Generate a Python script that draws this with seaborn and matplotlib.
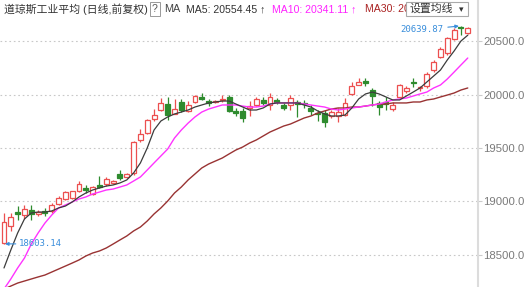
import numpy as np
import pandas as pd
import matplotlib
matplotlib.use("Agg")
import matplotlib.pyplot as plt
import matplotlib.patches as mpatches
import seaborn as sns

# ---------------- data ----------------
opens = [18611, 18770, 18901, 18873, 18920, 18883, 18911, 18911, 18976, 19023,
         19030, 19098, 19126, 19070, 19154, 19163, 19173, 19257, 19229, 19266,
         19575, 19640, 19771, 19855, 19911, 19818, 19930, 19846, 19930, 19977,
         19939, 19930, 19950, 19977, 19846, 19846, 19874, 19902, 19949, 19902,
         19949, 19902, 19902, 19930, 19925, 19874, 19827, 19827, 19799, 19799,
         19808, 20005, 20089, 20126, 20042, 19921, 19930, 19864, 19977, 20033,
         20117, 20061, 20079, 20229, 20351, 20388, 20519, 20635, 20575]
closes = [18808, 18855, 18883, 18929, 18883, 18901, 18892, 18967, 19032, 19088,
          19095, 19163, 19107, 19135, 19135, 19210, 19191, 19219, 19257, 19556,
          19631, 19762, 19808, 19921, 19808, 19864, 19855, 19902, 19986, 19958,
          19925, 19939, 19958, 19846, 19830, 19780, 19892, 19958, 19921, 19977,
          19930, 19874, 19967, 19911, 19911, 19846, 19818, 19743, 19836, 19836,
          19921, 20079, 20117, 20107, 19986, 19883, 19911, 19902, 20089, 20061,
          20107, 20070, 20192, 20304, 20425, 20528, 20603, 20625, 20625]
highs = [18892, 18892, 18957, 18967, 18967, 18920, 18939, 18985, 19051, 19098,
         19100, 19191, 19154, 19144, 19238, 19229, 19201, 19294, 19266, 19565,
         19677, 19770, 19864, 19967, 19977, 19958, 19958, 19939, 19995, 20014,
         19958, 19950, 19995, 19995, 19874, 19874, 19939, 19977, 19977, 20014,
         19967, 19921, 19995, 19949, 19949, 19902, 19855, 19855, 19855, 19874,
         19967, 20117, 20154, 20154, 20061, 19939, 19977, 19930, 20098, 20079,
         20154, 20079, 20210, 20323, 20444, 20537, 20620, 20639.87, 20630]
lows = [18603.14, 18724, 18827, 18836, 18827, 18864, 18864, 18892, 18967, 19014,
        19020, 19088, 19079, 19060, 19130, 19144, 19163, 19201, 19219, 19250,
        19556, 19630, 19752, 19850, 19762, 19815, 19836, 19840, 19925, 19950,
        19893, 19920, 19930, 19836, 19799, 19743, 19799, 19893, 19902, 19855,
        19911, 19855, 19855, 19790, 19874, 19808, 19752, 19696, 19780, 19743,
        19800, 19998, 20085, 20079, 19892, 19808, 19855, 19846, 19970, 20014,
        20070, 20033, 20061, 20210, 20341, 20370, 20510, 20560, 20570]

ma5 = [18378, 18546, 18705, 18836, 18892, 18901, 18901, 18911, 18939, 18957,
       18995, 19042, 19079, 19107, 19126, 19144, 19154, 19173, 19201, 19266,
       19360, 19500, 19668, 19752, 19790, 19818, 19836, 19855, 19883, 19902,
       19921, 19930, 19939, 19939, 19911, 19883, 19855, 19855, 19874, 19911,
       19921, 19921, 19921, 19921, 19902, 19883, 19846, 19818, 19799, 19799,
       19808, 19874, 19958, 20005, 20023, 20005, 19977, 19949, 19949, 19986,
       20023, 20061, 20117, 20173, 20229, 20323, 20407, 20500, 20554.45]
ma10 = [18181, 18275, 18378, 18471, 18602, 18705, 18798, 18873, 18939, 18967,
        18995, 19023, 19042, 19070, 19088, 19107, 19116, 19135, 19154, 19191,
        19229, 19294, 19360, 19425, 19490, 19593, 19668, 19733, 19790, 19836,
        19864, 19883, 19902, 19902, 19902, 19892, 19883, 19883, 19892, 19911,
        19921, 19921, 19921, 19921, 19911, 19902, 19892, 19883, 19864, 19855,
        19864, 19874, 19883, 19892, 19902, 19911, 19930, 19949, 19958, 19967,
        19986, 20005, 20023, 20061, 20089, 20145, 20210, 20276, 20341.11]
ma30 = [18181, 18209, 18237, 18256, 18275, 18294, 18312, 18340, 18368, 18396,
        18424, 18453, 18490, 18518, 18537, 18565, 18602, 18640, 18677, 18724,
        18761, 18817, 18883, 18939, 19004, 19079, 19135, 19201, 19257, 19313,
        19350, 19378, 19406, 19444, 19481, 19509, 19546, 19575, 19612, 19649,
        19677, 19705, 19724, 19752, 19780, 19799, 19827, 19846, 19864, 19874,
        19874, 19883, 19883, 19892, 19902, 19911, 19911, 19921, 19921, 19921,
        19930, 19930, 19949, 19958, 19977, 19995, 20014, 20042, 20061]

yticks = [18500, 19000, 19500, 20000, 20500]
title_text = "道琼斯工业平均 (日线,前复权)"
ma_labels = ["MA5: 20554.45 ↑", "MA10: 20341.11 ↑", "MA30: 20061.35"]
low_label = "18603.14"
high_label = "20639.87"

# ---------------- style ----------------
sns.set_style("white")
plt.rcParams["font.family"] = ["Liberation Sans", "Noto Sans CJK SC", "DejaVu Sans"]

RED = "#ec4f4f"
GREEN = "#2e8b2e"
C_MA5 = "#3c3c3c"
C_MA10 = "#ff33ff"
C_MA30 = "#993333"
BLUE = "#3a8edb"

W, H = 524, 287
fig = plt.figure(figsize=(W / 100, H / 100), dpi=100)
fig.patch.set_facecolor("white")
ax = fig.add_axes([0, 0, 478 / W, 1])

n = len(opens)
df = pd.DataFrame({"idx": np.arange(n), "open": opens, "close": closes,
                   "high": highs, "low": lows,
                   "ma5": ma5, "ma10": ma10, "ma30": ma30})

# grid
for v in yticks:
    ax.axhline(v, color="#c8c8c8", lw=0.8, ls=(0, (1.5, 2.5)), zorder=0)

# moving averages
sns.lineplot(data=df, x="idx", y="ma30", color=C_MA30, lw=1.0, ax=ax, zorder=4)
sns.lineplot(data=df, x="idx", y="ma10", color=C_MA10, lw=1.0, ax=ax, zorder=4)
sns.lineplot(data=df, x="idx", y="ma5", color=C_MA5, lw=0.9, ax=ax, zorder=4)

# candles
up = df["close"] >= df["open"]
cols = np.where(up, RED, GREEN)
ax.vlines(df["idx"], df["low"], df["high"], colors=cols, lw=0.9, zorder=2)
bottom = np.minimum(df["open"], df["close"])
height = np.maximum(np.abs(df["close"] - df["open"]), 4)
bw = 0.72
ax.bar(df["idx"][up], height[up], bottom=bottom[up], width=bw,
       facecolor="white", edgecolor=RED, linewidth=0.9, zorder=3)
ax.bar(df["idx"][~up], height[~up], bottom=bottom[~up], width=bw,
       facecolor=GREEN, edgecolor=GREEN, linewidth=0.9, zorder=3)

# axes limits / ticks
ax.set_xlim(-0.587, 69.5)
ax.set_ylim(18200.1, 20883.6)
ax.set_xlabel("")
ax.set_ylabel("")
ax.set_xticks([])
ax.yaxis.tick_right()
ax.set_yticks(yticks)
ax.set_yticklabels([f"{v:.1f}" for v in yticks])
ax.tick_params(axis="y", length=3, width=0.8, color="#cccccc", pad=1,
               labelsize=8.2, labelcolor="#7a7a7a")
for s in ["left", "top", "bottom"]:
    ax.spines[s].set_visible(False)
ax.spines["right"].set_color("#dcdcdc")
ax.spines["right"].set_linewidth(1.5)
ax.set_facecolor("white")

# low / high annotations
ax.annotate(low_label, xy=(0.15, lows[0]), xytext=(2.2, lows[0]),
            color=BLUE, fontsize=6.5, family="DejaVu Sans Mono",
            ha="left", va="center",
            arrowprops=dict(arrowstyle="-|>", color=BLUE, lw=0.8,
                            mutation_scale=5, shrinkA=0, shrinkB=0), zorder=6)
hi_i = int(np.argmax(highs))
ax.annotate(high_label, xy=(hi_i - 0.3, highs[hi_i]), xytext=(64.4, 20605),
            color=BLUE, fontsize=6.5, family="DejaVu Sans Mono",
            ha="right", va="center",
            arrowprops=dict(arrowstyle="-|>", color=BLUE, lw=0.8,
                            mutation_scale=5, shrinkA=1, shrinkB=0), zorder=6)

# header
def ftxt(x, y, s, **kw):
    return fig.text(x / W, 1 - y / H, s, va="center", **kw)

ftxt(4, 9, title_text, color="#333333", fontsize=7.8)
ftxt(152, 9, "?", color="#555555", fontsize=7.5,
     bbox=dict(boxstyle="square,pad=0.2", fc="white", ec="#999999", lw=0.7))
ftxt(164, 9, "MA", color="#444444", fontsize=7.8)
ftxt(186, 9, ma_labels[0], color="#333333", fontsize=7.6)
ftxt(272, 9, ma_labels[1], color="#ff22ff", fontsize=7.6)
ftxt(365, 9, ma_labels[2], color="#aa2222", fontsize=7.6, zorder=3)
fig.patches.append(mpatches.Rectangle((406 / W, 1 - 16 / H), 62 / W, 14 / H,
                                      transform=fig.transFigure, fc="white",
                                      ec="#aaaaaa", lw=0.8, zorder=5))
ftxt(410, 9, "设置均线", color="#333333", fontsize=7.8, zorder=6)
ftxt(459, 9.5, "▾", color="#333333", fontsize=6.5, zorder=6,
     family="DejaVu Sans")

fig.savefig("out.png", dpi=100, facecolor="white")
